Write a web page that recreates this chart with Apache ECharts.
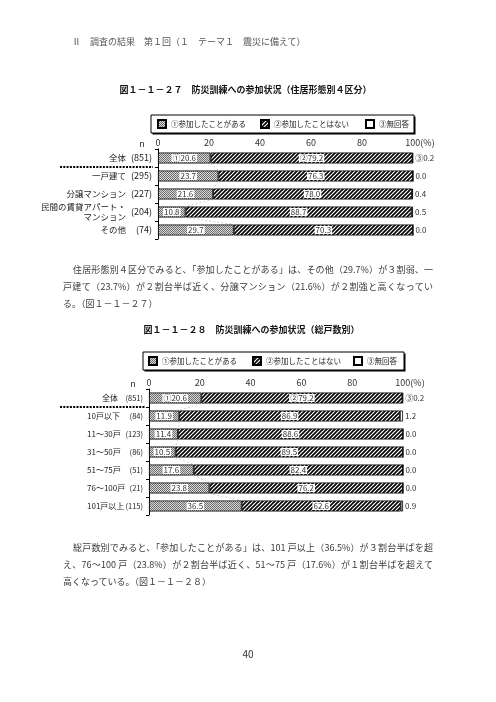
<!DOCTYPE html>
<html><head><meta charset="utf-8">
<script src="https://cdn.jsdelivr.net/npm/echarts@6/dist/echarts.min.js"></script>
<style>
html,body{margin:0;padding:0;background:#fff;}
#wrap{position:relative;width:496px;height:702px;overflow:hidden;font-family:"Noto Sans CJK JP","Noto Sans",sans-serif;}
#chart{position:absolute;left:0;top:0;width:496px;height:702px;}
.t{position:absolute;white-space:nowrap;line-height:12px;color:#333;}
.p{position:absolute;left:63px;width:370px;box-sizing:border-box;font-size:9px;line-height:12px;color:#3a3a3a;white-space:nowrap;}
.j{text-align:justify;text-align-last:justify;}
.ind{padding-left:10px;}
</style></head>
<body>
<div id="wrap">
<div id="chart"></div>
<div class="t" style="left:72px;top:36px;font-size:9px;color:#555;">Ⅱ　調査の結果　第１回（１　テーマ１　震災に備えて）</div>
<div class="t" style="left:0;width:491px;text-align:center;top:84px;font-size:9px;font-weight:bold;color:#111;">図１－１－２７　防災訓練への参加状況（住居形態別４区分）</div>
<div class="p j ind" style="top:264px;">住居形態別４区分でみると、「参加したことがある」は、その他（29.7%）が３割弱、一</div>
<div class="p j" style="top:281px;">戸建て（23.7%）が２割台半ば近く、分譲マンション（21.6%）が２割強と高くなってい</div>
<div class="p" style="top:298px;">る。（図１－１－２７）</div>
<div class="t" style="left:7px;width:489px;text-align:center;top:324px;font-size:9px;font-weight:bold;color:#111;">図１－１－２８　防災訓練への参加状況（総戸数別）</div>
<div class="p j ind" style="top:542px;">総戸数別でみると、「参加したことがある」は、101 戸以上（36.5%）が３割台半ばを超</div>
<div class="p j" style="top:559px;">え、76～100 戸（23.8%）が２割台半ば近く、51～75 戸（17.6%）が１割台半ばを超えて</div>
<div class="p" style="top:576px;">高くなっている。（図１－１－２８）</div>
<div class="t" style="left:0;width:496px;text-align:center;top:648px;font-size:10px;color:#333;">40</div>
</div>
<script>
// ---- data ----
const legendNames = ['①参加したことがある', '②参加したことはない', '③無回答'];
const ticks = [0, 20, 40, 60, 80, 100];

const names1 = ['全体', '一戸建て', '分譲マンション', '民間の賃貸アパート・\nマンション', 'その他'];
const n1 = ['(851)', '(295)', '(227)', '(204)', '(74)'];
const yes1 = [20.6, 23.7, 21.6, 10.8, 29.7];
const no1 = [79.2, 76.3, 78.0, 88.7, 70.3];
const na1 = [0.2, 0.0, 0.4, 0.5, 0.0];

const names2 = ['全体', '10戸以下', '11～30戸', '31～50戸', '51～75戸', '76～100戸', '101戸以上'];
const n2 = ['(851)', '(84)', '(123)', '(86)', '(51)', '(21)', '(115)'];
const yes2 = [20.6, 11.9, 11.4, 10.5, 17.6, 23.8, 36.5];
const no2 = [79.2, 86.9, 88.6, 89.5, 82.4, 76.2, 62.6];
const na2 = [0.2, 1.2, 0.0, 0.0, 0.0, 0.0, 0.9];

// ---- styles ----
const FONT = '"Noto Sans CJK JP","Noto Sans",sans-serif';
const BAR = 11;
const circ = ['①', '②', '③'];

function dotPattern() {
  const c = document.createElement('canvas'); c.width = 2; c.height = 2;
  const x = c.getContext('2d');
  x.fillStyle = '#d6d6d6'; x.fillRect(0, 0, 2, 2);
  x.fillStyle = '#707070'; x.fillRect(0, 0, 1, 1); x.fillRect(1, 1, 1, 1);
  return c;
}
function hatchPattern() {
  const s = 4;
  const c = document.createElement('canvas'); c.width = s; c.height = s;
  const x = c.getContext('2d');
  x.fillStyle = '#fff'; x.fillRect(0, 0, s, s);
  x.strokeStyle = '#000'; x.lineWidth = 1.6;
  x.beginPath();
  x.moveTo(-1, s + 1); x.lineTo(s + 1, -1);
  x.moveTo(-1, 1); x.lineTo(1, -1);
  x.moveTo(s - 1, s + 1); x.lineTo(s + 1, s - 1);
  x.stroke();
  return c;
}
const fills = [
  { image: dotPattern(), repeat: 'repeat' },
  { image: hatchPattern(), repeat: 'repeat' },
  '#ffffff'
];

function connectors(vals) {
  const d = [];
  for (let i = 0; i < vals.length - 1; i++) d.push([vals[i], i, vals[i + 1]]);
  return d;
}

function makeGridParts(g, names, ns, yes, no, na, opt) {
  const xAxis = {
    gridIndex: g, type: 'value', position: 'top',
    min: ticks[0], max: ticks[ticks.length - 1], interval: ticks[1] - ticks[0],
    axisLine: { show: false }, axisTick: { show: false }, splitLine: { show: false },
    axisLabel: {
      margin: 2, fontSize: 9, color: '#333', fontFamily: FONT, showMaxLabel: true, showMinLabel: true,
      formatter: v => v === 100 ? '{sp| }100(%)' : String(v),
      rich: { sp: { width: 14, fontSize: 9 } }
    }
  };
  const yName = {
    gridIndex: g, type: 'category', data: names, inverse: true, position: 'left',
    axisLine: { show: true, lineStyle: { color: '#000', width: 1 } },
    axisTick: { show: true, length: 3, lineStyle: { color: '#000' } },
    splitLine: { show: false },
    axisLabel: Object.assign({
      interval: 0, color: '#222', fontFamily: FONT, lineHeight: 10
    }, opt.nameLabel)
  };
  const yN = {
    gridIndex: g, type: 'category', data: ns, inverse: true, position: 'left',
    axisLine: { show: false }, axisTick: { show: false }, splitLine: { show: false },
    axisLabel: { interval: 0, margin: opt.nMargin, fontSize: opt.nSize, color: '#222', fontFamily: FONT, align: 'right' }
  };
  const vals = [yes, no, na];
  const series = vals.map((arr, k) => ({
    name: legendNames[k], type: 'bar', stack: 's' + g,
    xAxisIndex: g, yAxisIndex: opt.yIdx,
    barWidth: BAR, data: arr,
    itemStyle: { color: fills[k], borderColor: '#000', borderWidth: 0.8 },
    emphasis: { disabled: true },
    label: k < 2 ? {
      show: true, position: 'inside', fontSize: 8, color: '#333', fontFamily: FONT,
      backgroundColor: '#fff', padding: [0, 1], textBorderWidth: 0,
      formatter: p => (p.dataIndex === 0 ? circ[k] : '') + p.value.toFixed(1)
    } : {
      show: true, position: 'right', distance: 2, fontSize: 8, color: '#333', fontFamily: FONT,
      textBorderWidth: 0,
      formatter: p => (p.dataIndex === 0 ? circ[k] : '') + p.value.toFixed(1)
    }
  }));
  series.push({
    type: 'custom', xAxisIndex: g, yAxisIndex: opt.yIdx, silent: true, z: 1,
    data: connectors(yes), encode: { x: 0, y: 1 },
    renderItem: (params, api) => {
      const i = api.value(1);
      const p1 = api.coord([api.value(0), i]);
      const p2 = api.coord([api.value(2), i + 1]);
      return {
        type: 'line',
        shape: { x1: p1[0], y1: p1[1] + BAR / 2, x2: p2[0], y2: p2[1] - BAR / 2 },
        style: { stroke: '#c4c4c4', lineWidth: 0.8, lineDash: [2, 2] }
      };
    }
  });
  return { xAxis, yName, yN, series };
}

const A = makeGridParts(0, names1, n1, yes1, no1, na1, {
  yIdx: 0, nMargin: 6, nSize: 9, nameLabel: { margin: 32, align: 'right', fontSize: 8.5 }
});
const B = makeGridParts(1, names2, n2, yes2, no2, na2, {
  yIdx: 2, nMargin: 6, nSize: 7.5, nameLabel: {
    margin: 62, align: 'left', fontSize: 8,
    formatter: (v, i) => i === 0 ? '{z|' + v + '}' : v,
    rich: { z: { padding: [0, 0, 0, 15], fontSize: 8, color: '#222', fontFamily: FONT } }
  }
});

function legendItem(k, left, top) {
  return {
    data: [legendNames[k]], orient: 'horizontal', itemWidth: 8, itemHeight: 8, itemGap: 5,
    padding: 0, icon: 'rect', selectedMode: false, left: left, top: top,
    textStyle: { fontSize: 7.5, color: '#222', fontFamily: FONT }
  };
}

function box(x, y, w, h) {
  return [
    { type: 'rect', z: 0, shape: { x: x + 1.5, y: y + 1.5, width: w, height: h }, style: { fill: '#000' } },
    { type: 'rect', z: 0, shape: { x: x, y: y, width: w, height: h }, style: { fill: '#fff', stroke: '#000', lineWidth: 1 } }
  ];
}

const option = {
  animation: false,
  backgroundColor: '#fff',
  textStyle: { fontFamily: FONT },
  grid: [
    { left: 158, top: 149, width: 255, height: 90, containLabel: false, outerBoundsMode: 'none' },
    { left: 149, top: 389, width: 254, height: 126, containLabel: false, outerBoundsMode: 'none' }
  ],
  xAxis: [A.xAxis, B.xAxis],
  yAxis: [A.yName, A.yN, B.yName, B.yN],
  legend: [
    legendItem(0, 157, 119), legendItem(1, 260, 119), legendItem(2, 365, 119),
    legendItem(0, 148, 356), legendItem(1, 252, 356), legendItem(2, 353, 356)
  ],
  graphic: [].concat(
    box(151, 115, 263, 18),
    box(143, 352, 261, 18),
    [
      { type: 'text', style: { text: 'n', x: 142, y: 144, fontSize: 9, fill: '#333', fontFamily: FONT, align: 'center', verticalAlign: 'middle' } },
      { type: 'text', style: { text: 'n', x: 133, y: 384, fontSize: 9, fill: '#333', fontFamily: FONT, align: 'center', verticalAlign: 'middle' } },
      { type: 'line', shape: { x1: 60, y1: 167, x2: 153, y2: 167 }, style: { stroke: '#000', lineWidth: 2, lineDash: [2, 1.3] } },
      { type: 'line', shape: { x1: 60, y1: 407, x2: 145, y2: 407 }, style: { stroke: '#000', lineWidth: 2, lineDash: [2, 1.3] } }
    ]
  ),
  series: A.series.concat(B.series)
};

const chart = echarts.init(document.getElementById('chart'), null, { renderer: 'canvas' });
chart.setOption(option);
</script>
</body></html>
